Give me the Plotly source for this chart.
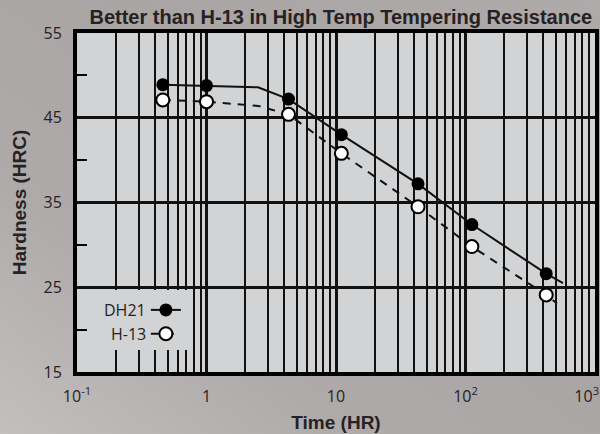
import base64
import plotly.graph_objects as go

# ---- data ----
dh21_time = [0.46, 1.0, 4.3, 11, 43, 112, 420]
dh21_hrc = [48.9, 48.8, 47.2, 43.0, 37.2, 32.4, 26.6]
h13_time = [0.46, 1.0, 4.3, 11, 43, 112, 420]
h13_hrc = [47.1, 46.9, 45.4, 40.8, 34.5, 29.8, 24.1]

# extra points of the drawn trend curves (bend and tail, no marker)
dh21_curve_time = [2.5, 566]
dh21_curve_hrc = [48.6, 25.5]
h13_curve_time = [2.5, 509]
h13_curve_hrc = [46.4, 23.1]

NB = "\u00a0"
x_tick_vals = [0.1, 1, 10, 100, 1000]
x_tick_text = ["10<sup>-1</sup>", "1", "10", "10<sup>2</sup>", "10<sup>3</sup>" + NB * 4]
y_tick_vals = [15, 25, 35, 45, 55]
y_minor_vals = [20, 30, 40, 50]

series_names = ["DH21", "H-13"]

PAPER = "#aaa6a5"
PLOT = "#d2d3d5"
INK = "#111111"
TXT = "#262223"

W, H = 600, 434
ML, MR, MT, MB = 77, 5, 33, 62


def merged(t, v, ct, cv):
    pts = sorted([(a, b, True) for a, b in zip(t, v)] + [(a, b, False) for a, b in zip(ct, cv)])
    xs = [p[0] for p in pts]
    ys = [p[1] for p in pts]
    sel = [i for i, p in enumerate(pts) if p[2]]
    return xs, ys, sel


fig = go.Figure()

x1, y1, s1 = merged(dh21_time, dh21_hrc, dh21_curve_time, dh21_curve_hrc)
fig.add_trace(go.Scatter(
    x=x1, y=y1, mode="lines+markers", name=" ",
    line=dict(color=INK, width=2),
    marker=dict(symbol="circle", size=13, color="black", line=dict(color="black", width=0)),
    selectedpoints=s1,
    selected=dict(marker=dict(opacity=1)),
    unselected=dict(marker=dict(opacity=0)),
    hoverinfo="skip",
))

x2, y2, s2 = merged(h13_time, h13_hrc, h13_curve_time, h13_curve_hrc)
fig.add_trace(go.Scatter(
    x=x2, y=y2, mode="lines+markers", name="  ",
    line=dict(color=INK, width=2, dash="8px,7px"),
    marker=dict(symbol="circle", size=13, color="white", line=dict(color="black", width=2)),
    selectedpoints=s2,
    selected=dict(marker=dict(opacity=1)),
    unselected=dict(marker=dict(opacity=0)),
    hoverinfo="skip",
))

minor_x = [k * 10 ** n for n in range(-1, 3) for k in range(2, 10)]

fig.update_xaxes(
    type="log", range=[-1, 3],
    tickmode="array", tickvals=x_tick_vals, ticktext=x_tick_text,
    ticks="", showgrid=True, gridcolor=INK, gridwidth=2.5,
    minor=dict(tickmode="array", tickvals=minor_x, showgrid=True, gridcolor=INK, gridwidth=2, ticks=""),
    showline=True, mirror=True, linecolor="black", linewidth=4,
    zeroline=False,
    ticklabelstandoff=7,
    ticklabeloverflow="allow",
    tickfont=dict(family="Open Sans", size=16, color=TXT),
    title=dict(text="<b>Time (HR)</b>", font=dict(family="Liberation Sans, Arial", size=19, color=TXT), standoff=10),
    automargin=False,
)
fig.update_yaxes(
    range=[15, 55],
    tickmode="array", tickvals=y_tick_vals,
    ticks="", showgrid=True, gridcolor=INK, gridwidth=2.5,
    minor=dict(tickmode="array", tickvals=y_minor_vals, ticks="inside", ticklen=10, tickwidth=2, tickcolor="black", showgrid=False),
    showline=True, mirror=True, linecolor="black", linewidth=4,
    zeroline=False,
    ticklabelstandoff=8,
    tickfont=dict(family="Open Sans", size=16, color=TXT),
    title=dict(text="<b>Hardness (HRC)</b>", font=dict(family="Liberation Sans, Arial", size=19, color=TXT), standoff=13),
    automargin=False,
)

# plain patch behind the legend (covers the grid lines there)
fig.add_shape(type="rect", xref="paper", yref="paper", layer="above",
              x0=0.025, x1=0.218, y0=0.065, y1=0.242,
              fillcolor=PLOT, line=dict(width=0))

for name, yy in zip(series_names, [0.183, 0.112]):
    fig.add_annotation(text=name, xref="paper", yref="paper", x=0.137, y=yy,
                       xanchor="right", yanchor="middle", showarrow=False,
                       font=dict(family="Open Sans", size=16, color=TXT))

# page background: soft diagonal shading, with the flat light plot panel on top
pw, ph = W - ML - MR, H - MT - MB
svg = (
    f"<svg xmlns='http://www.w3.org/2000/svg' width='{W}' height='{H}' viewBox='0 0 {W} {H}' preserveAspectRatio='none'>"
    "<defs><linearGradient id='g' x1='0' y1='1' x2='1' y2='0'>"
    "<stop offset='0' stop-color='#c2bfbe'/>"
    "<stop offset='0.3' stop-color='#aeaaa9'/>"
    "<stop offset='0.6' stop-color='#a9a5a4'/>"
    "<stop offset='1' stop-color='#aeaaa9'/>"
    f"</linearGradient></defs><rect width='{W}' height='{H}' fill='url(#g)'/>"
    f"<rect x='{ML}' y='{MT}' width='{pw}' height='{ph}' fill='{PLOT}'/></svg>"
)
src = "data:image/svg+xml;base64," + base64.b64encode(svg.encode()).decode()
fig.add_layout_image(source=src, xref="paper", yref="paper",
                     x=-ML / pw, y=1 + MT / ph, sizex=W / pw, sizey=H / ph,
                     xanchor="left", yanchor="top", sizing="stretch", layer="below")

fig.update_layout(
    width=W, height=H,
    margin=dict(l=ML, r=MR, t=MT, b=MB),
    paper_bgcolor=PAPER, plot_bgcolor=PLOT,
    title=dict(text="<b>Better than H-13 in High Temp Tempering Resistance</b>",
               x=0.568, xref="container", xanchor="center",
               y=0.961, yref="container", yanchor="middle",
               font=dict(family="Liberation Sans, Arial", size=20, color=TXT)),
    showlegend=True,
    legend=dict(x=0.133, y=0.1475, xanchor="left", yanchor="middle",
                bgcolor="rgba(0,0,0,0)", borderwidth=0, itemwidth=30,
                font=dict(family="Open Sans", size=16, color=TXT), tracegroupgap=0),
)

fig.write_html("out.html", config={"displayModeBar": False},
               post_script="document.body.style.margin='0';document.body.style.overflow='hidden';")
